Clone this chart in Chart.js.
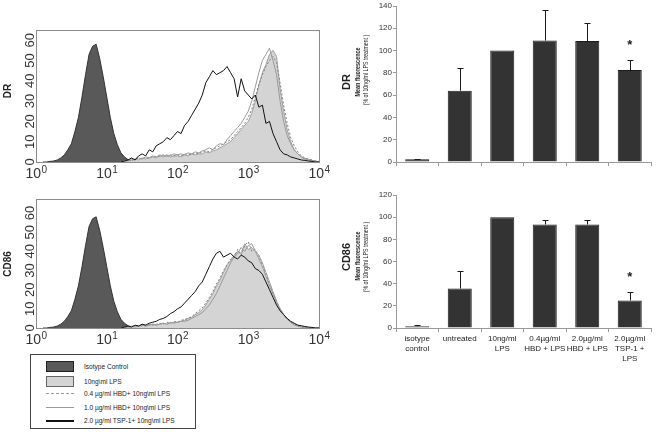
<!DOCTYPE html>
<html>
<head>
<meta charset="utf-8">
<script src="https://cdn.jsdelivr.net/npm/chart.js@4.4.1/dist/chart.umd.min.js"></script>
<style>
  html, body { margin: 0; padding: 0; background: #fff; }
  body { width: 661px; height: 432px; position: relative; overflow: hidden; font-family: "Liberation Sans", Arial, sans-serif; color: #222; }
  canvas { position: absolute; }
  .rot { position: absolute; white-space: nowrap; line-height: 1; }
  .lab { font-weight: bold; }
  .legend { position: absolute; left: 30px; top: 354px; width: 166px; height: 75px; border: 1px solid #444; box-sizing: border-box; }
  .sw { position: absolute; left: 15px; width: 28px; box-sizing: border-box; }
  .lt { position: absolute; left: 53px; font-size: 8px; line-height: 1; white-space: nowrap; transform-origin: left center; transform: translateY(-50%) scaleX(0.82); color: #222; }
</style>
</head>
<body>
<canvas id="histDR" width="330" height="185" style="left:0;top:0;width:330px;height:185px"></canvas>
<canvas id="histCD" width="330" height="165" style="left:0;top:185px;width:330px;height:165px"></canvas>
<canvas id="barDR" width="321" height="175" style="left:340px;top:0;width:321px;height:175px"></canvas>
<canvas id="barCD" width="321" height="185" style="left:340px;top:185px;width:321px;height:185px"></canvas>

<div class="rot lab" style="left:8px;top:91px;font-size:10px;transform:translate(-50%,-50%) rotate(-90deg)">DR</div>
<div class="rot lab" style="left:8px;top:264px;font-size:10px;transform:translate(-50%,-50%) rotate(-90deg)">CD86</div>
<div class="rot lab" style="left:346px;top:82px;font-size:11px;transform:translate(-50%,-50%) rotate(-90deg)">DR</div>
<div class="rot lab" style="left:346px;top:257px;font-size:11px;transform:translate(-50%,-50%) rotate(-90deg)">CD86</div>

<div class="rot" style="left:357px;top:72px;font-size:7px;font-weight:bold;transform:translate(-50%,-50%) rotate(-90deg) scaleX(0.78)">Mean fluorescence</div>
<div class="rot" style="left:365px;top:70px;font-size:7px;transform:translate(-50%,-50%) rotate(-90deg) scaleX(0.75)">(% of 10ng/ml LPS treatment )</div>
<div class="rot" style="left:357px;top:256px;font-size:7px;font-weight:bold;transform:translate(-50%,-50%) rotate(-90deg) scaleX(0.78)">Mean fluorescence</div>
<div class="rot" style="left:365px;top:257px;font-size:7px;transform:translate(-50%,-50%) rotate(-90deg) scaleX(0.75)">(% of 10ng/ml LPS treatment )</div>

<div class="legend">
  <div class="sw" style="top:6px;height:11px;background:#595959;border:1px solid #222"></div>
  <div class="lt" style="top:12px">Isotype Control</div>
  <div class="sw" style="top:21px;height:11px;background:#d4d4d4;border:1px solid #666"></div>
  <div class="lt" style="top:27px">10ng\ml LPS</div>
  <div class="sw" style="top:38px;height:0;border-top:1px dashed #999"></div>
  <div class="lt" style="top:39px">0.4 µg/ml HBD+ 10ng\ml LPS</div>
  <div class="sw" style="top:52px;height:0;border-top:1px solid #9a9a9a"></div>
  <div class="lt" style="top:53px">1.0 µg/ml HBD+ 10ng\ml LPS</div>
  <div class="sw" style="top:65px;height:0;border-top:2px solid #111"></div>
  <div class="lt" style="top:66px">2.0 µg/ml TSP-1+ 10ng\ml LPS</div>
</div>

<script>
// fluorescence channel, as log10 exponent (10^0 .. 10^4)
var isoLog = [0.10, 0.15, 0.20, 0.25, 0.30, 0.35, 0.40, 0.45, 0.50, 0.55, 0.60, 0.65, 0.70, 0.75,
  0.80, 0.85, 0.90, 0.95, 1.00, 1.05, 1.10, 1.15, 1.20, 1.25, 1.30, 1.35, 1.40, 1.45];
var actLog = [1.20, 1.25, 1.30, 1.35, 1.40, 1.45, 1.50, 1.55, 1.60, 1.65,
  1.70, 1.75, 1.80, 1.85, 1.90, 1.95, 2.00, 2.05, 2.10, 2.15,
  2.20, 2.25, 2.30, 2.35, 2.40, 2.45, 2.50, 2.55, 2.60, 2.65,
  2.70, 2.75, 2.80, 2.85, 2.90, 2.95, 3.00, 3.05, 3.10, 3.15,
  3.20, 3.25, 3.30, 3.35, 3.40, 3.45, 3.50, 3.55, 3.60, 3.65,
  3.70, 3.75, 3.80, 3.85, 3.90, 3.95, 4.00];

// cell counts
var isotype = [0, 0, 0.3, 0.5, 1, 2, 3.5, 6, 9, 15, 22, 32, 43, 53,
  57, 58, 51, 42, 32, 22, 14, 8.5, 4.5, 2.5, 1.2, 0.5, 0.2, 0];

var drLps = [0, 0.5, 0.5, 1, 1.5, 1, 2, 1.5, 2, 2.5,
  2, 3, 2.5, 3, 2.5, 3, 3, 2.5, 3.5, 3,
  4, 3.5, 4, 4, 5, 4.5, 5.5, 6, 7, 8,
  9, 10, 12, 14, 16, 18, 20, 24, 30, 38,
  44, 48, 53, 55, 52, 36, 25, 16, 10, 6,
  4, 2.5, 1.8, 1.2, 0.8, 0.4, 0];
var drHbd04 = [0, 0.3, 1, 0.5, 1.5, 2, 1.5, 2.5, 2, 3,
  2.5, 3, 3.5, 3, 3.5, 3, 3.5, 3, 4, 3.5,
  4, 4.5, 4, 5, 5.5, 5, 6.5, 7, 8, 9,
  10, 11, 13, 15, 17, 19, 22, 26, 32, 38,
  43, 47, 50, 52, 49, 39, 28, 19, 12, 8,
  5, 3, 2, 1.5, 1, 0.5, 0];
var drHbd10 = [0, 0.5, 0.8, 1.5, 1, 2, 1.5, 2.5, 2, 3,
  2.5, 3.5, 3, 3.5, 3, 4, 3.5, 4, 3.5, 4.5,
  4, 5, 4.5, 5.5, 6, 7, 6, 8, 9, 8.5,
  11, 13, 15, 17, 19, 22, 25, 30, 37, 44,
  50, 53, 56, 50, 43, 30, 20, 13, 9, 6,
  4, 2.5, 1.5, 1, 0.8, 0.5, 0];
var drTsp = [0, 0.5, 1, 2, 1, 3, 4, 3, 6, 5,
  8, 9, 10, 12, 11, 13, 15, 14, 18, 20,
  23, 26, 29, 33, 39, 42, 45, 43, 44, 45,
  47, 44, 41, 32, 41, 35, 33, 31, 33, 27,
  28, 19, 20, 14, 10, 6, 4, 3.5, 2.5, 2,
  1.5, 1, 0.8, 0.5, 0.3, 0, 0];

var cdLps = [0, 0.3, 0.5, 1, 0.5, 1, 1.5, 1, 1.5, 2,
  1.5, 2, 2.5, 2, 2.5, 3, 3, 3.5, 4, 5,
  5.5, 7, 8, 9.5, 12, 15, 18, 22, 25, 29,
  33, 35, 38, 40, 39, 44, 41, 42, 40, 36,
  32, 27, 22, 18, 13, 10, 7, 4.5, 3, 1.5,
  1, 0.5, 0.3, 0, 0, 0, 0];
var cdHbd04 = [0, 0.5, 0.3, 1, 0.8, 1.5, 1, 1.5, 2, 1.5,
  2, 2.5, 2, 3, 2.5, 3.5, 3, 4, 4.5, 5,
  6, 7.5, 9, 10.5, 13, 16, 19, 23, 26, 30,
  33, 36, 37, 41, 38, 43, 45, 40, 41, 37,
  33, 28, 23, 18, 14, 10, 7, 4.5, 3, 2,
  1, 0.6, 0.3, 0.2, 0, 0, 0];
var cdHbd10 = [0, 0.3, 0.8, 0.5, 1, 1, 1.5, 1, 1.5, 2,
  1.5, 2, 2.5, 2, 3, 2.5, 3, 3.5, 3.5, 4,
  5, 6, 7, 8, 10, 12, 15, 18, 22, 26,
  30, 34, 37, 39, 42, 40, 43, 44, 40, 38,
  34, 29, 24, 19, 14, 10, 7, 5, 3, 2,
  1.2, 0.6, 0.3, 0, 0, 0, 0];
var cdTsp = [0, 0.5, 1, 0.5, 1.5, 1, 2, 1.5, 2.5, 3,
  3.5, 4.5, 5, 6, 7.5, 8.5, 10, 11, 13, 15,
  17, 19, 22, 24, 28, 32, 36, 39, 40, 37,
  38, 39, 37, 36, 38, 37, 35, 34, 31, 30,
  28, 24, 20, 16, 12, 9, 7, 5, 3.5, 2.5,
  1.5, 1.2, 0.8, 0.5, 0.3, 0, 0];

var histTicksY = [0, 10, 20, 30, 40, 50, 60];
var histTicksX = [0, 1, 2, 3, 4];

// bar charts: mean fluorescence (% of 10ng/ml LPS) with upper SD
var barLabels = [["isotype", "control"], "untreated", ["10ng/ml", "LPS"],
  ["0.4µg/ml", "HBD + LPS"], ["2.0µg/ml", "HBD + LPS"], ["2.0µg/ml", "TSP-1 +", "LPS"]];
var drMeans = [2.4, 64, 100, 109, 108.5, 82.5];
var drErr = [0.6, 20, 0, 27.5, 16, 9];
var cdMeans = [1.6, 35.6, 100, 93.4, 93.4, 24.9];
var cdErr = [0.7, 15.6, 0, 4.2, 4.2, 7.2];
var sigMarks = ["", "", "", "", "", "*"];

var FONT = '"Liberation Sans", Arial, sans-serif';

function pts(xs, ys) {
  return xs.map(function (e, i) { return { x: e, y: ys[i] }; });
}

var histDecor = {
  id: "histDecor",
  afterDraw: function (chart) {
    var ctx = chart.ctx, a = chart.chartArea, sx = chart.scales.x, sy = chart.scales.y;
    ctx.save();
    ctx.strokeStyle = "#8c8c8c";
    ctx.lineWidth = 1;
    ctx.strokeRect(Math.round(a.left) + 0.5, Math.round(a.top) + 0.5,
      Math.round(a.right - a.left), Math.round(a.bottom - a.top));

    ctx.fillStyle = "#333";
    ctx.font = "13px " + FONT;
    ctx.textAlign = "center";
    ctx.textBaseline = "middle";
    histTicksY.forEach(function (v) {
      ctx.save();
      ctx.translate(a.left - 6, sy.getPixelForValue(v));
      ctx.rotate(-Math.PI / 2);
      ctx.fillText(String(v), 0, 0);
      ctx.restore();
    });

    ctx.textAlign = "left";
    ctx.textBaseline = "alphabetic";
    histTicksX.forEach(function (n) {
      var x = sx.getPixelForValue(n);
      ctx.font = "14px " + FONT;
      var w1 = ctx.measureText("10").width;
      ctx.font = "10px " + FONT;
      var w2 = ctx.measureText(String(n)).width;
      var x0 = x - (w1 + w2) / 2;
      ctx.font = "14px " + FONT;
      ctx.fillText("10", x0, a.bottom + 16);
      ctx.font = "10px " + FONT;
      ctx.fillText(String(n), x0 + w1 + 0.5, a.bottom + 11);
    });
    ctx.restore();
  }
};

function histChart(id, yMax, padTop, axisH, lps, hbd04, hbd10, tsp) {
  var line = { pointRadius: 0, tension: 0, borderWidth: 1, fill: false };
  new Chart(document.getElementById(id), {
    type: "line",
    data: {
      datasets: [
        Object.assign({}, line, { label: "TSP-1", data: pts(actLog, tsp), borderColor: "#111" }),
        Object.assign({}, line, { label: "HBD 1.0", data: pts(actLog, hbd10), borderColor: "#9a9a9a" }),
        Object.assign({}, line, { label: "HBD 0.4", data: pts(actLog, hbd04), borderColor: "#7d7d7d", borderDash: [2, 2] }),
        Object.assign({}, line, { label: "LPS", data: pts(actLog, lps), borderColor: "#a0a0a0", backgroundColor: "#d4d4d4", fill: "origin" }),
        Object.assign({}, line, { label: "Isotype", data: pts(isoLog, isotype), borderColor: "#333", backgroundColor: "#595959", fill: "origin" })
      ]
    },
    options: {
      responsive: false,
      animation: false,
      events: [],
      layout: { padding: { top: padTop, right: 11, left: 0, bottom: 0 } },
      plugins: { legend: { display: false }, tooltip: { enabled: false } },
      scales: {
        x: {
          type: "linear", min: 0, max: 4,
          grid: { display: false }, border: { display: false }, ticks: { display: false },
          afterFit: function (s) { s.height = axisH; }
        },
        y: {
          min: 0, max: yMax,
          grid: { display: false }, border: { display: false }, ticks: { display: false },
          afterFit: function (s) { s.width = 36; }
        }
      }
    },
    plugins: [histDecor]
  });
}

var errorBars = {
  id: "errorBars",
  afterDatasetsDraw: function (chart, args, opts) {
    var ctx = chart.ctx, sy = chart.scales.y, meta = chart.getDatasetMeta(0);
    var means = chart.data.datasets[0].data;
    ctx.save();
    ctx.strokeStyle = "#1a1a1a";
    ctx.fillStyle = "#1a1a1a";
    ctx.lineWidth = 1;
    ctx.font = "bold 13px " + FONT;
    ctx.textAlign = "center";
    ctx.textBaseline = "middle";
    meta.data.forEach(function (bar, i) {
      var top = means[i] + (opts.errs[i] || 0);
      var y1 = Math.round(sy.getPixelForValue(top)) + 0.5;
      if (opts.errs[i]) {
        var x = Math.round(bar.x) + 0.5;
        ctx.beginPath();
        ctx.moveTo(x, sy.getPixelForValue(means[i]));
        ctx.lineTo(x, y1);
        ctx.moveTo(x - 3, y1);
        ctx.lineTo(x + 3, y1);
        ctx.stroke();
      }
      if (opts.marks[i]) ctx.fillText(opts.marks[i], bar.x, y1 - 15);
    });
    ctx.restore();
  }
};

function barChart(id, means, errs, yMax, padTop, axisH, showLabels) {
  new Chart(document.getElementById(id), {
    type: "bar",
    data: {
      labels: barLabels,
      datasets: [{
        data: means,
        backgroundColor: "#333",
        borderColor: "#1a1a1a",
        borderWidth: 1,
        barPercentage: 0.565,
        categoryPercentage: 1
      }]
    },
    options: {
      responsive: false,
      animation: false,
      events: [],
      layout: { padding: { top: padTop, right: 10, left: 0, bottom: 0 } },
      plugins: {
        legend: { display: false },
        tooltip: { enabled: false },
        errorBars: { errs: errs, marks: sigMarks }
      },
      scales: {
        x: {
          grid: { drawOnChartArea: false, tickLength: 4, color: "#999" },
          border: { color: "#999" },
          ticks: {
            display: showLabels, color: "#222", padding: 2, maxRotation: 0, autoSkip: false,
            font: { size: 8, family: FONT, lineHeight: 1.25 }
          },
          afterFit: function (s) { s.height = axisH; }
        },
        y: {
          min: 0, max: yMax,
          grid: { drawOnChartArea: false, tickLength: 3, color: "#999" },
          border: { color: "#999" },
          ticks: { stepSize: 20, color: "#333", padding: 1, font: { size: 8, family: FONT } },
          afterFit: function (s) { s.width = 56; }
        }
      }
    },
    plugins: [errorBars]
  });
}

histChart("histDR", 65, 30, 23, drLps, drHbd04, drHbd10, drTsp);
histChart("histCD", 67.3, 14, 22, cdLps, cdHbd04, cdHbd10, cdTsp);
barChart("barDR", drMeans, drErr, 140, 6, 13, false);
barChart("barCD", cdMeans, cdErr, 120, 10, 42, true);
</script>
</body>
</html>
